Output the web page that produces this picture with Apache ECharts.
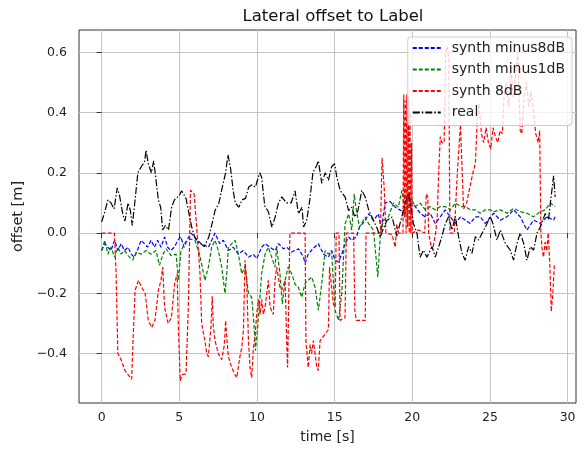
<!DOCTYPE html>
<html>
<head>
<meta charset="utf-8">
<script src="https://cdn.jsdelivr.net/npm/echarts@6/dist/echarts.min.js"></script>
<style>
  html, body { margin: 0; padding: 0; background: #fff; }
  #main { width: 587px; height: 451px; }
</style>
</head>
<body>
<div id="main"></div>
<script>
// [time s, offset m]
const minus8dB = [[0,-0.058],[0.2,-0.035],[0.4,-0.047],[0.6,-0.058],[0.83,-0.024],[1.05,-0.058],[1.25,-0.035],[1.47,-0.058],[1.7,-0.047],[1.9,-0.07],[2.1,-0.08],[2.3,-0.058],[2.54,-0.024],[2.75,-0.035],[2.95,-0.047],[3.18,-0.024],[3.4,-0.047],[3.6,-0.024],[3.82,-0.047],[4.05,-0.013],[4.25,-0.047],[4.45,-0.058],[4.68,-0.047],[4.9,-0.024],[5.1,-0.013],[5.3,-0.047],[5.53,-0.02],[5.75,0],[5.96,-0.013],[6.4,-0.035],[6.87,-0.047],[7.3,0],[7.6,-0.035],[7.83,-0.024],[8.16,-0.058],[8.48,-0.047],[8.8,-0.07],[9.12,-0.058],[9.45,-0.08],[9.76,-0.07],[9.98,-0.085],[10.3,-0.047],[10.52,-0.035],[10.84,-0.047],[11.16,-0.058],[11.38,-0.035],[11.7,-0.052],[11.92,-0.047],[12.24,-0.063],[12.67,-0.052],[12.99,-0.08],[13.1,-0.1],[13.3,-0.07],[13.6,-0.052],[13.95,-0.035],[14.28,-0.07],[14.6,-0.08],[14.8,-0.058],[15.03,-0.09],[15.25,-0.096],[15.46,-0.07],[15.67,-0.035],[15.9,-0.013],[16.1,-0.024],[16.4,-0.013],[16.6,0.02],[16.97,0.042],[17.2,0.064],[17.5,0.042],[17.82,0.064],[18.0,0.01],[18.25,0.1],[18.57,0.105],[18.9,0.086],[19.2,0.077],[19.54,0.066],[19.86,0.1],[20.19,0.088],[20.5,0.066],[20.83,0.054],[21.15,0.066],[21.48,0.032],[21.8,0.054],[22.12,0.077],[22.45,0.054],[22.77,0.032],[23.1,0.054],[23.41,0.043],[23.73,0.032],[24.06,0.054],[24.38,0.054],[24.7,0.032],[25.24,0.066],[25.67,0.043],[26.1,0.054],[26.52,0.077],[26.95,0.054],[27.38,0.01],[27.81,0.043],[28.24,0.032],[28.67,0.054],[29.1,0.043],[29.2,0.054]];

const minus1dB = [[0,-0.058],[0.2,-0.024],[0.4,-0.07],[0.6,-0.047],[0.83,-0.08],[1.05,-0.047],[1.25,-0.07],[1.47,-0.058],[1.7,-0.075],[2.0,-0.09],[2.23,-0.063],[2.54,-0.07],[2.86,-0.058],[3.18,-0.07],[3.5,-0.058],[3.72,-0.107],[3.95,-0.07],[4.15,-0.052],[4.47,-0.075],[4.79,-0.07],[4.94,-0.157],[5.1,-0.06],[5.4,-0.03],[5.7,-0.02],[6.0,-0.024],[6.3,-0.07],[6.65,-0.157],[6.87,-0.113],[7.08,-0.047],[7.3,-0.024],[7.51,-0.058],[7.73,-0.113],[7.94,-0.2],[8.05,-0.135],[8.16,-0.047],[8.38,-0.035],[8.59,-0.024],[8.8,-0.07],[9.02,-0.135],[9.23,-0.113],[9.45,-0.2],[9.66,-0.213],[9.8,-0.3],[9.9,-0.39],[10.05,-0.31],[10.3,-0.135],[10.52,-0.07],[10.73,-0.047],[10.95,-0.08],[11.16,-0.113],[11.27,-0.047],[11.48,-0.135],[11.63,-0.235],[11.81,-0.157],[12.0,-0.113],[12.24,-0.135],[12.45,-0.17],[12.67,-0.18],[12.88,-0.213],[13.1,-0.167],[13.3,-0.157],[13.52,-0.146],[13.74,-0.18],[13.95,-0.257],[14.17,-0.167],[14.39,-0.058],[14.6,-0.07],[14.8,-0.058],[15.03,-0.257],[15.25,-0.29],[15.46,-0.2],[15.67,0.03],[15.9,0.064],[16.1,0.01],[16.26,0.13],[16.4,0.075],[16.6,0.02],[16.97,0.053],[17.2,0.03],[17.5,0.01],[17.78,-0.146],[17.95,0],[18.14,0.042],[18.45,0.053],[18.79,0.1],[19.1,0.086],[19.33,0.142],[19.54,0.066],[19.76,0.12],[19.97,0.11],[20.19,0.088],[20.5,0.1],[20.83,0.077],[21.15,0.088],[21.48,0.077],[21.8,0.088],[22.12,0.088],[22.45,0.077],[22.77,0.1],[23.1,0.088],[23.41,0.088],[23.73,0.077],[24.06,0.077],[24.38,0.066],[24.7,0.077],[25.02,0.077],[25.24,0.071],[25.67,0.077],[26.1,0.066],[26.52,0.082],[26.95,0.071],[27.38,0.066],[27.81,0.054],[28.24,0.071],[28.56,0.077],[28.88,0.1],[29.2,0.088]];

const plus8dB = [[0,0],[0.82,0],[0.93,-0.135],[1.04,-0.4],[1.25,-0.42],[1.5,-0.456],[1.7,-0.47],[1.93,-0.485],[2.02,-0.357],[2.15,-0.19],[2.37,-0.157],[2.58,-0.18],[2.8,-0.2],[3.0,-0.29],[3.22,-0.313],[3.43,-0.29],[3.65,-0.19],[3.82,-0.157],[3.93,-0.113],[4.05,-0.246],[4.28,-0.3],[4.49,-0.28],[4.7,-0.168],[4.86,-0.135],[4.93,-0.3],[5.06,-0.49],[5.2,-0.47],[5.43,-0.467],[5.58,-0.246],[5.72,0.142],[5.95,0.13],[6.12,0.02],[6.33,-0.135],[6.44,-0.3],[6.54,-0.33],[6.65,-0.357],[6.76,-0.4],[6.87,-0.41],[7.04,-0.31],[7.12,-0.21],[7.19,-0.31],[7.3,-0.357],[7.51,-0.4],[7.73,-0.42],[7.9,-0.37],[7.98,-0.29],[8.07,-0.357],[8.16,-0.41],[8.37,-0.446],[8.59,-0.47],[8.7,-0.48],[8.9,-0.41],[9.02,-0.38],[9.13,-0.32],[9.23,-0.09],[9.34,-0.157],[9.45,-0.357],[9.55,-0.446],[9.66,-0.48],[9.77,-0.38],[9.87,-0.35],[9.98,-0.27],[10.09,-0.22],[10.2,-0.27],[10.3,-0.22],[10.41,-0.27],[10.52,-0.246],[10.73,-0.157],[10.84,-0.246],[11.05,-0.27],[11.16,-0.157],[11.27,-0.113],[11.48,-0.18],[11.59,-0.19],[11.81,-0.157],[11.91,-0.357],[11.97,-0.446],[12.05,-0.2],[12.12,0],[13.1,0],[13.15,-0.357],[13.3,-0.446],[13.42,-0.37],[13.52,-0.4],[13.63,-0.357],[13.74,-0.4],[13.85,-0.446],[13.95,-0.456],[14.06,-0.357],[14.17,-0.357],[14.39,-0.335],[14.6,-0.32],[14.67,-0.113],[14.8,-0.18],[14.92,-0.235],[15.03,-0.246],[15.1,0],[15.28,0],[15.35,-0.29],[15.67,-0.28],[15.75,0],[16.22,0],[16.3,-0.257],[16.4,-0.29],[16.97,-0.29],[17.02,0],[17.95,0],[18.05,0.25],[18.1,0.22],[18.2,0.14],[18.3,0],[18.7,-0.005],[18.9,-0.047],[19.0,0.03],[19.1,0],[19.4,0],[19.45,0.46],[19.5,0.05],[19.55,0.44],[19.6,0],[19.65,0.46],[19.7,0.02],[19.75,0.45],[19.8,0],[19.85,0.4],[19.9,0],[19.95,0.3],[20.0,0],[20.4,0.01],[20.8,0],[20.9,0.13],[21.0,0.12],[21.05,0],[21.2,-0.04],[21.35,-0.045],[21.5,0],[21.6,0.05],[21.7,0.2],[21.8,0.32],[21.9,0.3],[22.05,0.3],[22.15,0.6],[22.25,0.62],[22.35,0.58],[22.42,0],[22.7,0],[22.9,0.2],[23.1,0.36],[23.3,0.08],[23.5,0.1],[23.7,0.15],[23.9,0.2],[24.06,0.23],[24.17,0.36],[24.3,0.43],[24.45,0.33],[24.6,0.3],[24.75,0.35],[24.9,0.3],[25.05,0.28],[25.2,0.35],[25.35,0.32],[25.5,0.3],[25.65,0.34],[25.8,0.33],[25.9,0.45],[26.05,0.5],[26.2,0.42],[26.35,0.55],[26.5,0.45],[26.65,0.52],[26.8,0.6],[26.95,0.34],[27.05,0.33],[27.2,0.45],[27.35,0.5],[27.5,0.42],[27.65,0.47],[27.8,0.4],[27.95,0.33],[28.1,0.3],[28.2,0.34],[28.28,0],[28.35,-0.05],[28.45,-0.08],[28.55,-0.03],[28.65,-0.06],[28.75,0],[28.85,-0.1],[28.95,-0.26],[29.05,-0.2],[29.15,-0.1]];

const real = [[0,0.037],[0.2,0.07],[0.4,0.11],[0.6,0.1],[0.8,0.08],[1.0,0.15],[1.15,0.125],[1.37,0.06],[1.5,0.04],[1.7,0.1],[1.85,0.075],[1.97,0.025],[2.1,0.085],[2.33,0.2],[2.55,0.22],[2.76,0.236],[2.86,0.275],[3.0,0.23],[3.2,0.2],[3.35,0.24],[3.5,0.175],[3.65,0.11],[3.8,0.085],[3.93,0.01],[4.1,0.025],[4.3,0.01],[4.5,0.085],[4.68,0.11],[5.0,0.125],[5.15,0.14],[5.43,0.115],[5.6,0.07],[5.8,0.02],[5.96,-0.01],[6.17,-0.03],[6.38,-0.035],[6.6,-0.045],[6.7,-0.047],[6.9,-0.013],[7.1,0.03],[7.3,0.075],[7.55,0.1],[7.77,0.153],[7.98,0.2],[8.13,0.26],[8.3,0.215],[8.47,0.14],[8.6,0.1],[8.83,0.086],[9.04,0.11],[9.26,0.115],[9.47,0.153],[9.68,0.16],[9.9,0.153],[10.17,0.2],[10.3,0.185],[10.5,0.09],[10.74,0.07],[10.96,0.02],[11.17,0.053],[11.38,0.1],[11.6,0.12],[11.9,0.1],[12.2,0.1],[12.45,0.14],[12.67,0.064],[12.9,0.086],[13.0,0.02],[13.2,0.042],[13.4,0.11],[13.6,0.2],[13.85,0.225],[13.95,0.24],[14.17,0.165],[14.39,0.2],[14.6,0.175],[14.8,0.22],[15.0,0.23],[15.14,0.186],[15.35,0.142],[15.67,0.12],[15.9,0.075],[16.1,0.086],[16.3,0.053],[16.5,0.075],[16.75,0.142],[16.97,0.12],[17.2,0.075],[17.4,0.053],[17.7,0.02],[17.95,-0.013],[18.1,0.01],[18.36,0.042],[18.7,0.053],[19.0,-0.01],[19.2,0.03],[19.33,0.055],[19.54,0.1],[19.76,0.13],[19.9,0.09],[20.08,0.03],[20.3,0],[20.5,-0.08],[20.72,-0.057],[20.94,-0.08],[21.27,-0.045],[21.48,-0.08],[21.7,-0.045],[21.9,-0.012],[22.12,0.03],[22.34,0.055],[22.55,0.01],[22.77,0.055],[22.98,-0.012],[23.2,-0.067],[23.4,-0.09],[23.63,-0.045],[23.84,-0.067],[24.06,-0.012],[24.27,-0.023],[24.5,0],[24.7,0.02],[25.02,0.055],[25.2,0.03],[25.45,-0.023],[25.67,0.01],[25.99,-0.034],[26.31,-0.057],[26.52,-0.09],[26.74,-0.034],[26.95,0],[27.17,-0.034],[27.38,-0.09],[27.6,-0.045],[27.81,-0.057],[28.03,0],[28.24,0.02],[28.56,0.065],[28.77,0.045],[28.99,0.143],[29.1,0.19],[29.2,0.12]];

const xTicks = [0, 5, 10, 15, 20, 25, 30];
const yTicks = [-0.4, -0.2, 0, 0.2, 0.4, 0.6];

const font = "DejaVu Sans";

function lineSeries(name, data, color, dash) {
  return {
    name: name,
    type: "line",
    data: data,
    showSymbol: false,
    symbol: "none",
    color: color,
    lineStyle: { color: color, width: 1.2, type: dash },
    emphasis: { disabled: true },
  };
}

const option = {
  animation: false,
  backgroundColor: "#fff",
  title: {
    text: "Lateral offset to Label",
    left: 328,
    top: 3,
    textAlign: "center",
    textStyle: { fontFamily: font, fontSize: 16.5, fontWeight: "normal", color: "#111" },
  },
  legend: {
    orient: "vertical",
    right: 15,
    top: 37,
    padding: [3, 7, 5, 4],
    itemWidth: 28,
    itemHeight: 10,
    itemGap: 5.5,
    backgroundColor: "rgba(255,255,255,0.8)",
    borderColor: "#cccccc",
    borderWidth: 1,
    borderRadius: 3,
    itemStyle: { opacity: 0 },
    textStyle: { fontFamily: font, fontSize: 14, color: "#222", lineHeight: 16, padding: [0, 0, 0, 6] },
    data: ["synth minus8dB", "synth minus1dB", "synth 8dB", "real"],
  },
  grid: {
    left: 79,
    right: 11,
    top: 30,
    bottom: 48,
    show: true,
    borderColor: "#333",
    borderWidth: 1,
    backgroundColor: "#fff",
  },
  xAxis: {
    type: "value",
    min: -1.46,
    max: 30.54,
    name: "time [s]",
    nameLocation: "middle",
    nameGap: 27,
    nameTextStyle: { fontFamily: font, fontSize: 14, color: "#222" },
    axisLine: { show: false },
    axisTick: { show: true, length: 5, customValues: xTicks, lineStyle: { color: "#333" } },
    axisLabel: {
      customValues: xTicks,
      margin: 8,
      fontFamily: font,
      fontSize: 12.5,
      color: "#222",
    },
    splitLine: { show: true, lineStyle: { color: "#c4c4c4", width: 1 } },
  },
  yAxis: {
    type: "value",
    min: -0.564,
    max: 0.674,
    name: "offset [m]",
    nameLocation: "middle",
    nameGap: 52,
    nameTextStyle: { fontFamily: font, fontSize: 14.5, color: "#222" },
    axisLine: { show: false },
    axisTick: { show: true, length: 5, customValues: yTicks, lineStyle: { color: "#333" } },
    axisLabel: {
      customValues: yTicks,
      margin: 12,
      fontFamily: font,
      fontSize: 12.5,
      color: "#222",
      formatter: function (v) {
        return (v < -1e-9 ? "\u2212" : "") + Math.abs(v).toFixed(1);
      },
    },
    splitLine: { show: true, lineStyle: { color: "#c4c4c4", width: 1 } },
  },
  series: [
    lineSeries("synth minus8dB", minus8dB, "#0000ff", [4, 2]),
    lineSeries("synth minus1dB", minus1dB, "#008000", [4, 2]),
    lineSeries("synth 8dB", plus8dB, "#ff0000", [4, 2]),
    lineSeries("real", real, "#000000", [7, 2, 1.5, 2]),
  ],
};

const chart = echarts.init(document.getElementById("main"));
chart.setOption(option);
</script>
</body>
</html>
